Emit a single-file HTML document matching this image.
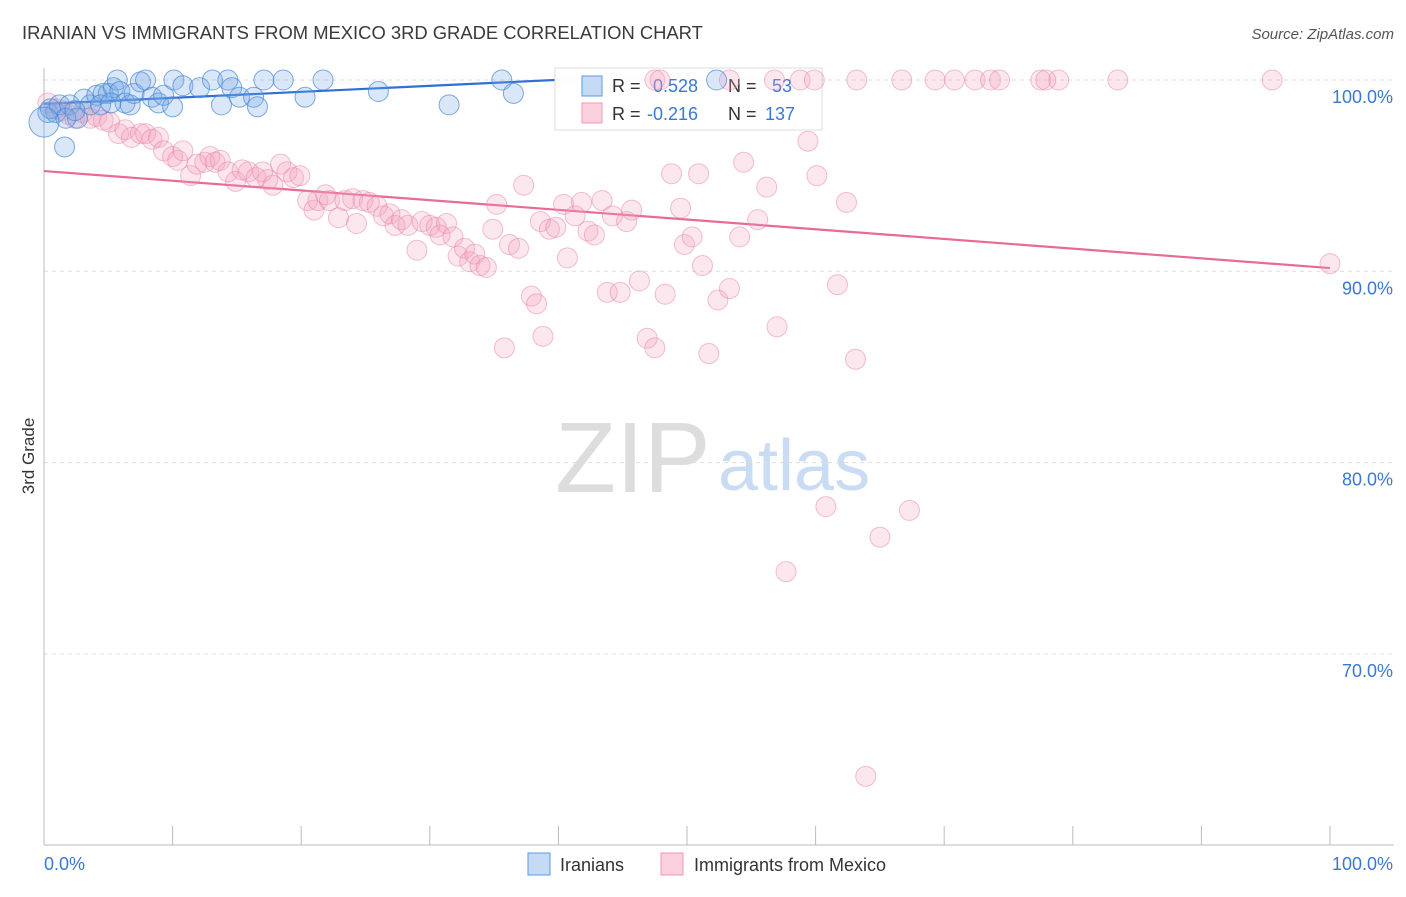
<!DOCTYPE html>
<html><head><meta charset="utf-8"><style>
body{margin:0;background:#fff;font-family:"Liberation Sans",sans-serif;}
svg text{font-family:"Liberation Sans",sans-serif;}
</style></head><body>
<svg id="chart" width="1406" height="892" xmlns="http://www.w3.org/2000/svg">
<text x="22" y="39" font-size="18.4" fill="#3a3a3a">IRANIAN VS IMMIGRANTS FROM MEXICO 3RD GRADE CORRELATION CHART</text>
<text x="1394" y="39" font-size="15" fill="#555" font-style="italic" text-anchor="end">Source: ZipAtlas.com</text>
<g>
<text x="555" y="492" font-size="100" fill="#ddd" font-family="Liberation Serif">ZIP</text>
<text x="718" y="490" font-size="72" fill="#c9dcf3">atlas</text>
</g>
<g id="grid"></g><g id="axes"></g><g id="lines"></g>
<g>
<rect x="555" y="68" width="267" height="62" fill="rgba(255,255,255,0.75)" stroke="#ddd"/>
<rect x="582" y="76" width="20" height="20" fill="#c5dbf5" stroke="#5b9be0"/>
<text x="612" y="92" font-size="18" fill="#333">R = </text><text x="653" y="92" font-size="18" fill="#3a78d4">0.528</text>
<text x="728" y="92" font-size="18" fill="#333">N = </text><text x="772" y="92" font-size="18" fill="#3a78d4">53</text>
<rect x="582" y="103" width="20" height="20" fill="#fbd0dd" stroke="#ee99b5"/>
<text x="612" y="120" font-size="18" fill="#333">R = </text><text x="647" y="120" font-size="18" fill="#3a78d4">-0.216</text>
<text x="728" y="120" font-size="18" fill="#333">N = </text><text x="765" y="120" font-size="18" fill="#3a78d4">137</text>
</g>
<g id="marks"></g>
<g>
<rect x="528" y="853" width="22" height="22" fill="#c5dbf5" stroke="#5b9be0"/>
<text x="560" y="871" font-size="18" fill="#333">Iranians</text>
<rect x="661" y="853" width="22" height="22" fill="#fbd0dd" stroke="#ee99b5"/>
<text x="694" y="871" font-size="18" fill="#333">Immigrants from Mexico</text>
</g>
<text x="0" y="0" font-size="17" fill="#333" transform="translate(34,456) rotate(-90)" text-anchor="middle">3rd Grade</text>
</svg>
<script>
const yTicks=[100,90,80,70];
const yTickLabels=["100.0%","90.0%","80.0%","70.0%"];
const xEndLabels=["0.0%","100.0%"];
const iranX=[0.3,0.9,1.6,0.5,1.2,2.0,2.6,3.1,3.6,4.1,4.6,5.0,5.4,5.7,5.9,6.3,6.7,7.0,7.5,7.9,8.4,8.9,9.3,10.0,10.1,10.8,12.1,13.1,13.8,14.3,14.6,15.2,16.3,16.6,17.1,18.6,20.3,21.7,26.0,31.5,35.6,36.5,52.3,1.7,2.4,4.4,5.2,0.0];
const iranY=[98.3,98.3,96.5,98.5,98.7,98.7,98.0,99.0,98.7,99.2,99.3,99.3,99.6,100,99.4,98.8,98.7,99.3,99.9,100,99.1,98.8,99.2,98.6,100,99.7,99.6,100,98.7,100,99.6,99.1,99.1,98.6,100,100,99.1,100,99.4,98.7,100,99.3,100,98.0,98.4,98.7,98.8,97.8];
const mexX=[0.3,0.9,1.4,1.9,2.4,3.0,3.6,4.1,4.6,5.1,5.8,6.3,6.8,7.5,7.9,8.4,8.9,9.3,10.0,10.4,10.8,11.4,11.9,12.5,12.9,13.3,13.7,14.3,14.9,15.4,15.9,16.5,17.0,17.4,17.8,18.4,18.9,19.4,19.9,20.5,21.0,21.3,21.9,22.2,22.9,23.4,24.0,24.3,24.8,25.3,25.9,26.4,26.9,27.3,27.8,28.3,29.0,29.4,30.0,30.5,30.8,31.3,31.8,32.2,32.7,33.1,33.5,33.9,34.4,34.9,35.2,35.8,36.2,36.9,37.3,37.9,38.3,38.6,38.8,39.3,39.8,40.4,40.7,41.3,41.8,42.3,42.8,43.4,43.8,44.2,44.8,45.3,45.7,46.3,46.9,47.5,48.3,48.8,49.5,49.8,50.4,50.9,51.2,51.7,52.4,53.3,54.1,54.4,55.5,56.2,57.0,57.7,59.4,60.1,60.8,61.7,62.4,63.1,63.9,65.0,67.3,47.5,47.9,53.3,56.8,58.8,59.9,63.2,66.7,69.3,70.8,72.4,73.6,74.3,77.5,77.9,78.9,83.5,95.5,100];
const mexY=[98.8,98.5,98.4,98.2,98.0,98.3,98.0,98.1,97.9,97.8,97.2,97.4,97.0,97.2,97.2,96.9,97.0,96.3,96.0,95.8,96.3,95.0,95.6,95.7,96.0,95.7,95.8,95.2,94.7,95.3,95.2,94.9,95.2,94.8,94.5,95.6,95.2,94.9,95.0,93.7,93.2,93.7,94.0,93.7,92.8,93.7,93.8,92.5,93.7,93.6,93.4,92.9,93.0,92.4,92.7,92.4,91.1,92.6,92.4,92.3,91.9,92.5,91.8,90.8,91.2,90.5,90.9,90.3,90.2,92.2,93.5,86.0,91.4,91.2,94.5,88.7,88.3,92.6,86.6,92.2,92.3,93.5,90.7,92.9,93.6,92.1,91.9,93.7,88.9,92.9,88.9,92.6,93.2,89.5,86.5,86.0,88.8,95.1,93.3,91.4,91.8,95.1,90.3,85.7,88.5,89.1,91.8,95.7,92.7,94.4,87.1,74.3,96.8,95.0,77.7,89.3,93.6,85.4,63.6,76.1,77.5,100,100,100,100,100,100,100,100,100,100,100,100,100,100,100,100,100,100,90.4];
const iranTrend=[[0,98.75],[39.7,100.0]];
const mexTrend=[[0,95.24],[100,90.17]];

const NS="http://www.w3.org/2000/svg";
const X=v=>44+v*12.86;
const Y=v=>80+(100-v)*19.13;
function mk(tag,attrs,parent){const e=document.createElementNS(NS,tag);for(const k in attrs)e.setAttribute(k,attrs[k]);document.getElementById(parent).appendChild(e);return e;}
yTicks.forEach((t,i)=>{
  const g=mk('line',{x1:44,x2:1394,y1:Y(t),y2:Y(t),stroke:'#ddd','stroke-dasharray':'4,4'},'grid');
  
  
  const l=mk('text',{x:1393,y:Y(t)+23,'font-size':18,fill:'#3a78d4','text-anchor':'end'},'grid');
  l.textContent=yTickLabels[i];
  
  
});
const ax=mk('line',{x1:44,x2:44,y1:68,y2:845,stroke:'#bbb'},'axes');


const bx=mk('line',{x1:44,x2:1394,y1:845,y2:845,stroke:'#bbb'},'axes');


for(let i=0;i<=10;i++){
  const t=mk('line',{x1:X(i*10),x2:X(i*10),y1:826,y2:845,stroke:'#bbb'},'axes');
  
  
}
[[0,'start',44],[1,'end',1393]].forEach(([i,a,x])=>{
  const t=mk('text',{x:x,y:870,'font-size':18,fill:'#3a78d4','text-anchor':a},'axes');
  t.textContent=xEndLabels[i];
  
  
});
mexX.forEach((v,i)=>{
  const c=mk('circle',{cx:X(v),cy:Y(mexY[i]),r:10,fill:'rgba(244,160,188,0.25)',stroke:'rgba(232,130,165,0.5)','stroke-width':1},'marks');
  
  
});
iranX.forEach((v,i)=>{
  const c=mk('circle',{cx:X(v),cy:Y(iranY[i]),r:i===iranX.length-1?15:10,fill:'rgba(120,170,230,0.28)',stroke:'rgba(70,135,215,0.7)','stroke-width':1},'marks');
  
  
});
const l1=mk('line',{x1:X(iranTrend[0][0]),y1:Y(iranTrend[0][1]),x2:X(iranTrend[1][0]),y2:Y(iranTrend[1][1]),stroke:'#2f6fd6','stroke-width':2.2},'lines');


const l2=mk('line',{x1:X(mexTrend[0][0]),y1:Y(mexTrend[0][1]),x2:X(mexTrend[1][0]),y2:Y(mexTrend[1][1]),stroke:'#e8699a','stroke-width':2.2},'lines');


</script>
</body></html>
